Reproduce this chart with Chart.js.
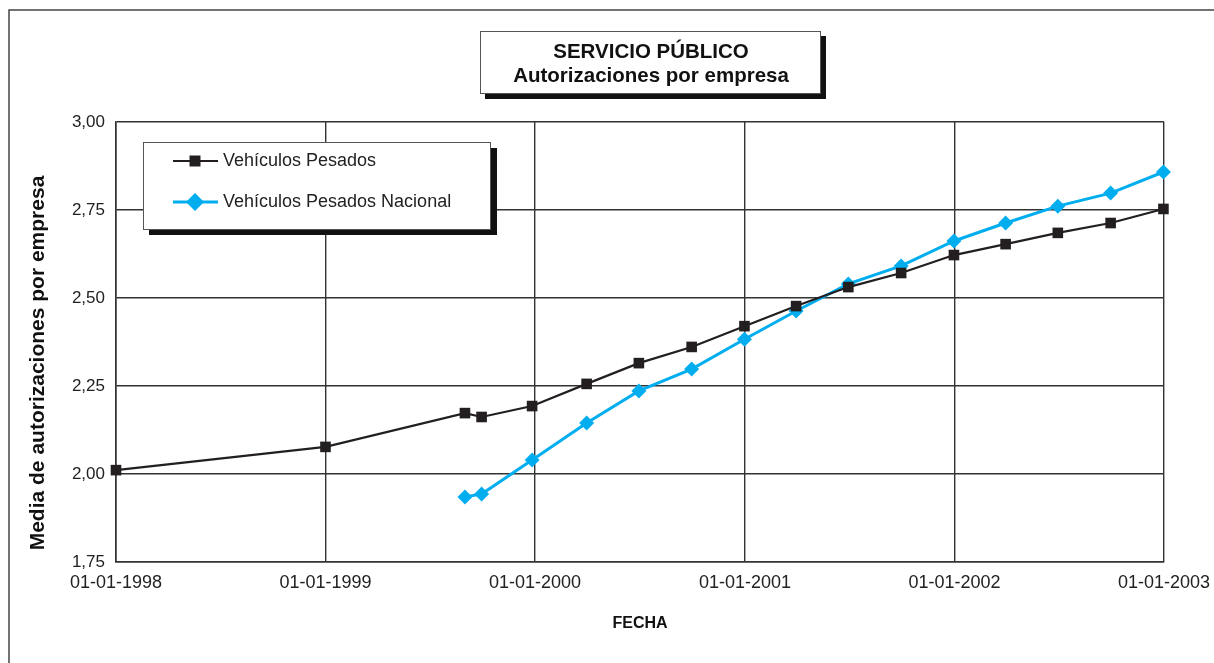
<!DOCTYPE html>
<html>
<head>
<meta charset="utf-8">
<script src="https://cdn.jsdelivr.net/npm/chart.js@4/dist/chart.umd.min.js"></script>
<style>
  html, body { margin: 0; padding: 0; background: #fff; }
  #wrap { position: relative; width: 1214px; height: 663px; }
  canvas { display: block; }
</style>
</head>
<body>
<div id="wrap"><canvas id="c" width="1214" height="663"></canvas></div>
<script>
// ---- Data ----
const titleLines = ["SERVICIO PÚBLICO", "Autorizaciones por empresa"];
const xAxisTitle = "FECHA";
const yAxisTitle = "Media de autorizaciones por empresa";
const seriesNames = ["Vehículos Pesados", "Vehículos Pesados Nacional"];

const pesadosDates = ["1998-01-01","1999-01-01","1999-09-01","1999-09-30","1999-12-27",
  "2000-03-31","2000-06-30","2000-09-30","2000-12-31","2001-03-31","2001-06-30",
  "2001-09-30","2001-12-31","2002-03-31","2002-06-30","2002-09-30","2002-12-31"];
const pesadosValues = [2.011,2.077,2.173,2.162,2.193,2.256,2.315,2.361,2.420,2.477,2.531,
  2.571,2.622,2.653,2.685,2.713,2.753];

const nacionalDates = ["1999-09-01","1999-09-30","1999-12-27",
  "2000-03-31","2000-06-30","2000-09-30","2000-12-31","2001-03-31","2001-06-30",
  "2001-09-30","2001-12-31","2002-03-31","2002-06-30","2002-09-30","2002-12-31"];
const nacionalValues = [1.935,1.943,2.040,2.145,2.236,2.298,2.383,2.463,2.540,2.591,
  2.662,2.713,2.761,2.798,2.858];

const xTickYears = [1998,1999,2000,2001,2002,2003];
const yTickValues = [1.75,2.00,2.25,2.50,2.75,3.00];

// ---- helpers ----
function toMs(s){ const p = s.split("-").map(Number); return Date.UTC(p[0], p[1]-1, p[2]); }
function pts(dates, vals){ return dates.map((d,i)=>({x: toMs(d), y: vals[i]})); }
function fmtDate(ms){
  const d = new Date(ms);
  const dd = String(d.getUTCDate()).padStart(2,"0");
  const mm = String(d.getUTCMonth()+1).padStart(2,"0");
  return dd + "-" + mm + "-" + d.getUTCFullYear();
}

const BLACK = "#231f20", BLUE = "#00aeef", GRID = "#333333";
const FONT = "'Liberation Sans', Arial, Helvetica, sans-serif";

const decorPlugin = {
  id: "decor",
  beforeDraw(chart){
    const ctx = chart.ctx;
    ctx.save();
    ctx.fillStyle = "#fff";
    ctx.fillRect(0,0,chart.width,chart.height);
    ctx.strokeStyle = "#444"; ctx.lineWidth = 1.5;
    ctx.beginPath(); ctx.moveTo(9, 663); ctx.lineTo(9, 10); ctx.lineTo(1214, 10); ctx.stroke();
    ctx.restore();
  },
  afterDraw(chart){
    const ctx = chart.ctx;
    ctx.save();
    // title box
    ctx.fillStyle = "#111"; ctx.fillRect(485, 36, 341, 63);
    ctx.fillStyle = "#fff"; ctx.fillRect(480, 31, 340, 62);
    ctx.strokeStyle = "#555"; ctx.lineWidth = 1; ctx.strokeRect(480.5, 31.5, 340, 62);
    ctx.fillStyle = "#111"; ctx.textAlign = "center"; ctx.textBaseline = "middle";
    ctx.font = "bold 20.5px " + FONT;
    ctx.fillText(titleLines[0], 651, 52);
    ctx.fillText(titleLines[1], 651, 76);

    // axis titles
    ctx.font = "bold 16px " + FONT;
    ctx.fillText(xAxisTitle, 640, 624);
    ctx.save();
    ctx.translate(38, 363); ctx.rotate(-Math.PI/2);
    ctx.font = "bold 21px " + FONT;
    ctx.fillText(yAxisTitle, 0, 0);
    ctx.restore();

    // legend box
    ctx.fillStyle = "#111"; ctx.fillRect(149, 148, 348, 87);
    ctx.fillStyle = "#fff"; ctx.fillRect(143, 142, 347, 87);
    ctx.strokeStyle = "#555"; ctx.lineWidth = 1; ctx.strokeRect(143.5, 142.5, 347, 87);
    const rows = [161, 202];
    chart.data.datasets.forEach((ds, i) => {
      const y = rows[i];
      ctx.strokeStyle = ds.borderColor; ctx.lineWidth = ds.borderWidth;
      ctx.beginPath(); ctx.moveTo(173, y); ctx.lineTo(218, y); ctx.stroke();
      ctx.fillStyle = ds.pointBackgroundColor;
      ctx.beginPath();
      if (ds.pointStyle === "rect") { ctx.rect(195-5.5, y-5.5, 11, 11); }
      else { ctx.moveTo(195, y-9); ctx.lineTo(204, y); ctx.lineTo(195, y+9); ctx.lineTo(186, y); ctx.closePath(); }
      ctx.fill();
      ctx.fillStyle = "#222"; ctx.textAlign = "left"; ctx.textBaseline = "middle";
      ctx.font = "18px " + FONT;
      ctx.fillText(ds.label, 223, y);
    });
    ctx.restore();
  }
};

new Chart(document.getElementById("c"), {
  type: "line",
  data: {
    datasets: [
      { label: seriesNames[0], data: pts(pesadosDates, pesadosValues),
        borderColor: BLACK, backgroundColor: BLACK, pointBackgroundColor: BLACK,
        pointBorderColor: BLACK, borderWidth: 2.2, pointStyle: "rect",
        pointRadius: 7.5, pointBorderWidth: 0, tension: 0, clip: false },
      { label: seriesNames[1], data: pts(nacionalDates, nacionalValues),
        borderColor: BLUE, backgroundColor: BLUE, pointBackgroundColor: BLUE,
        pointBorderColor: BLUE, borderWidth: 3, pointStyle: "rectRot",
        pointRadius: 7.5, pointBorderWidth: 0, tension: 0, clip: false }
    ]
  },
  options: {
    responsive: false,
    animation: false,
    devicePixelRatio: 1,
    layout: { padding: { top: 122, right: 50, left: 0, bottom: 0 } },
    plugins: { legend: { display: false }, title: { display: false }, tooltip: { enabled: false } },
    scales: {
      x: {
        type: "linear",
        min: toMs("1998-01-01"), max: toMs("2003-01-01"),
        afterBuildTicks(scale){ scale.ticks = xTickYears.map(y => ({ value: Date.UTC(y,0,1) })); },
        afterFit(scale){ scale.height = 101; scale.paddingLeft = 0; scale.paddingRight = 0; },
        ticks: { callback: v => fmtDate(v), color: "#222", font: { family: FONT, size: 18 },
                 padding: 10, maxRotation: 0, autoSkip: false },
        grid: { color: GRID, lineWidth: 1.4, drawTicks: false, tickLength: 0 },
        border: { color: GRID, width: 1.6 }
      },
      y: {
        min: 1.75, max: 3.00,
        afterBuildTicks(scale){ scale.ticks = yTickValues.map(v => ({ value: v })); },
        afterFit(scale){ scale.width = 116; scale.paddingTop = 0; scale.paddingBottom = 0; },
        ticks: { callback: v => v.toFixed(2).replace(".", ","), color: "#222",
                 font: { family: FONT, size: 17 }, padding: 11 },
        grid: { color: GRID, lineWidth: 1.4, drawTicks: false, tickLength: 0 },
        border: { color: GRID, width: 1.6 }
      }
    }
  },
  plugins: [decorPlugin]
});
</script>
</body>
</html>
